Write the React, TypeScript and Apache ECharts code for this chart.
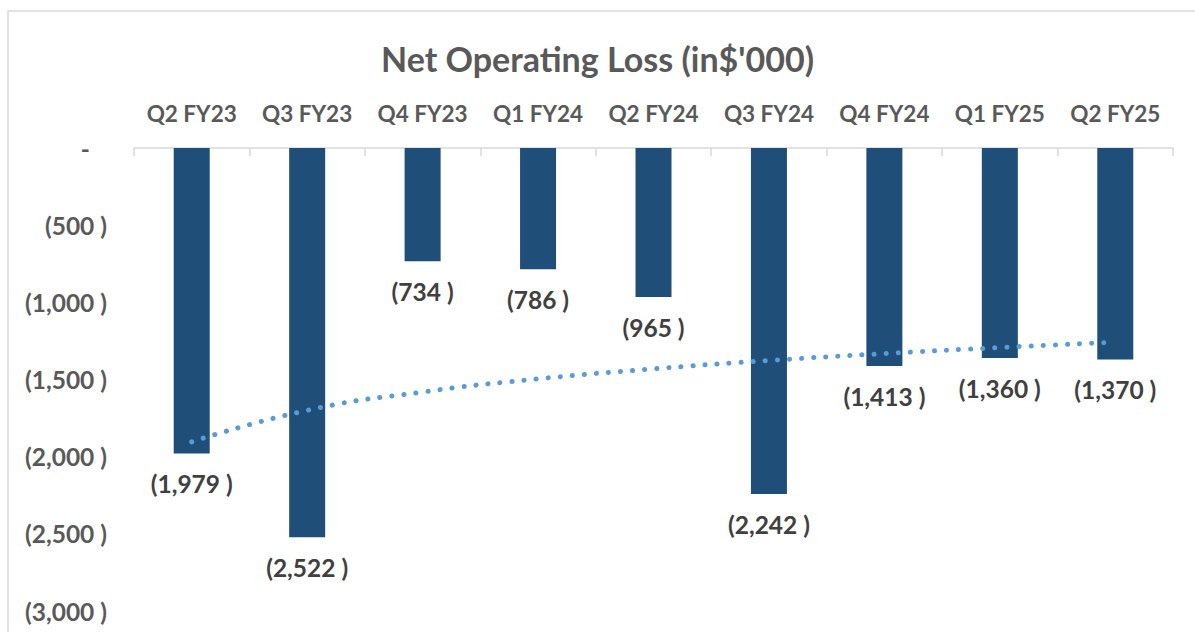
import React, { useEffect, useRef } from "react";
import * as echarts from "echarts";

const categories = ["Q2 FY23", "Q3 FY23", "Q4 FY23", "Q1 FY24", "Q2 FY24", "Q3 FY24", "Q4 FY24", "Q1 FY25", "Q2 FY25"];
const netOperatingLoss = [-1979, -2522, -734, -786, -965, -2242, -1413, -1360, -1370];
// Logarithmic trendline values at each category
const trendValues = [-1904, -1700, -1581, -1496, -1431, -1377, -1332, -1293, -1258];
const yTicks = { min: -3000, max: 0, interval: 500 };

const FONT = "Lato";
const LBL = 24.5;
const CAT = 22.5;

const fmt = (v: number) => {
  if (v === 0) return "{d|-}";
  return `(${Math.abs(v).toLocaleString("en-US")} )`;
};

export default function App() {
  const ref = useRef<HTMLDivElement>(null);
  useEffect(() => {
    document.body.style.margin = "0";
    if (!ref.current) return;
    const chart = echarts.init(ref.current, null, { renderer: "svg" });
    chart.setOption({
      animation: false,
      backgroundColor: "#ffffff",
      title: {
        text: "Net Operating Loss (in$'000)",
        left: "center",
        top: 36,
        textStyle: { fontFamily: FONT, fontSize: 34, fontWeight: "bold", color: "#595959" },
      },
      graphic: [
        {
          type: "rect",
          shape: { x: 8, y: 11, width: 1300, height: 800 },
          style: { fill: "none", stroke: "#D9D9D9", lineWidth: 1.5 },
          silent: true,
          z: -10,
        },
      ],
      grid: { left: 134, right: 22, top: 148, bottom: 21, containLabel: false },
      xAxis: {
        type: "category",
        data: categories,
        position: "top",
        axisLine: { show: true, lineStyle: { color: "#D9D9D9", width: 1.5 } },
        axisTick: { show: true, inside: true, length: 8, lineStyle: { color: "#D9D9D9", width: 1.5 } },
        axisLabel: { interval: 0, fontFamily: FONT, fontSize: CAT, fontWeight: "bold", color: "#595959", margin: 23 },
        splitLine: { show: false },
      },
      yAxis: {
        type: "value",
        min: yTicks.min,
        max: yTicks.max,
        interval: yTicks.interval,
        axisLine: { show: false },
        axisTick: { show: false },
        splitLine: { show: false },
        axisLabel: {
          fontFamily: FONT,
          fontSize: LBL,
          fontWeight: "bold",
          color: "#595959",
          margin: 27,
          formatter: fmt,
          rich: { d: { fontFamily: FONT, fontSize: LBL, fontWeight: "bold", color: "#595959", padding: [0, 17, 0, 0] } },
        },
      },
      series: [
        {
          type: "bar",
          data: netOperatingLoss,
          barWidth: 36,
          itemStyle: { color: "#1F4E79" },
          label: {
            show: true,
            position: "bottom",
            distance: 18,
            fontFamily: FONT,
            fontSize: LBL,
            fontWeight: "bold",
            color: "#404040",
            formatter: (p: any) => `(${Math.abs(p.value).toLocaleString("en-US")} )`,
          },
          z: 2,
        },
        {
          type: "line",
          data: trendValues,
          smooth: true,
          symbol: "none",
          lineStyle: { color: "#5B9BD5", width: 5, type: [0.1, 12], cap: "round" },
          z: 5,
        },
      ],
    });
    return () => chart.dispose();
  }, []);
  return <div ref={ref} style={{ width: 1195, height: 632 }} />;
}
